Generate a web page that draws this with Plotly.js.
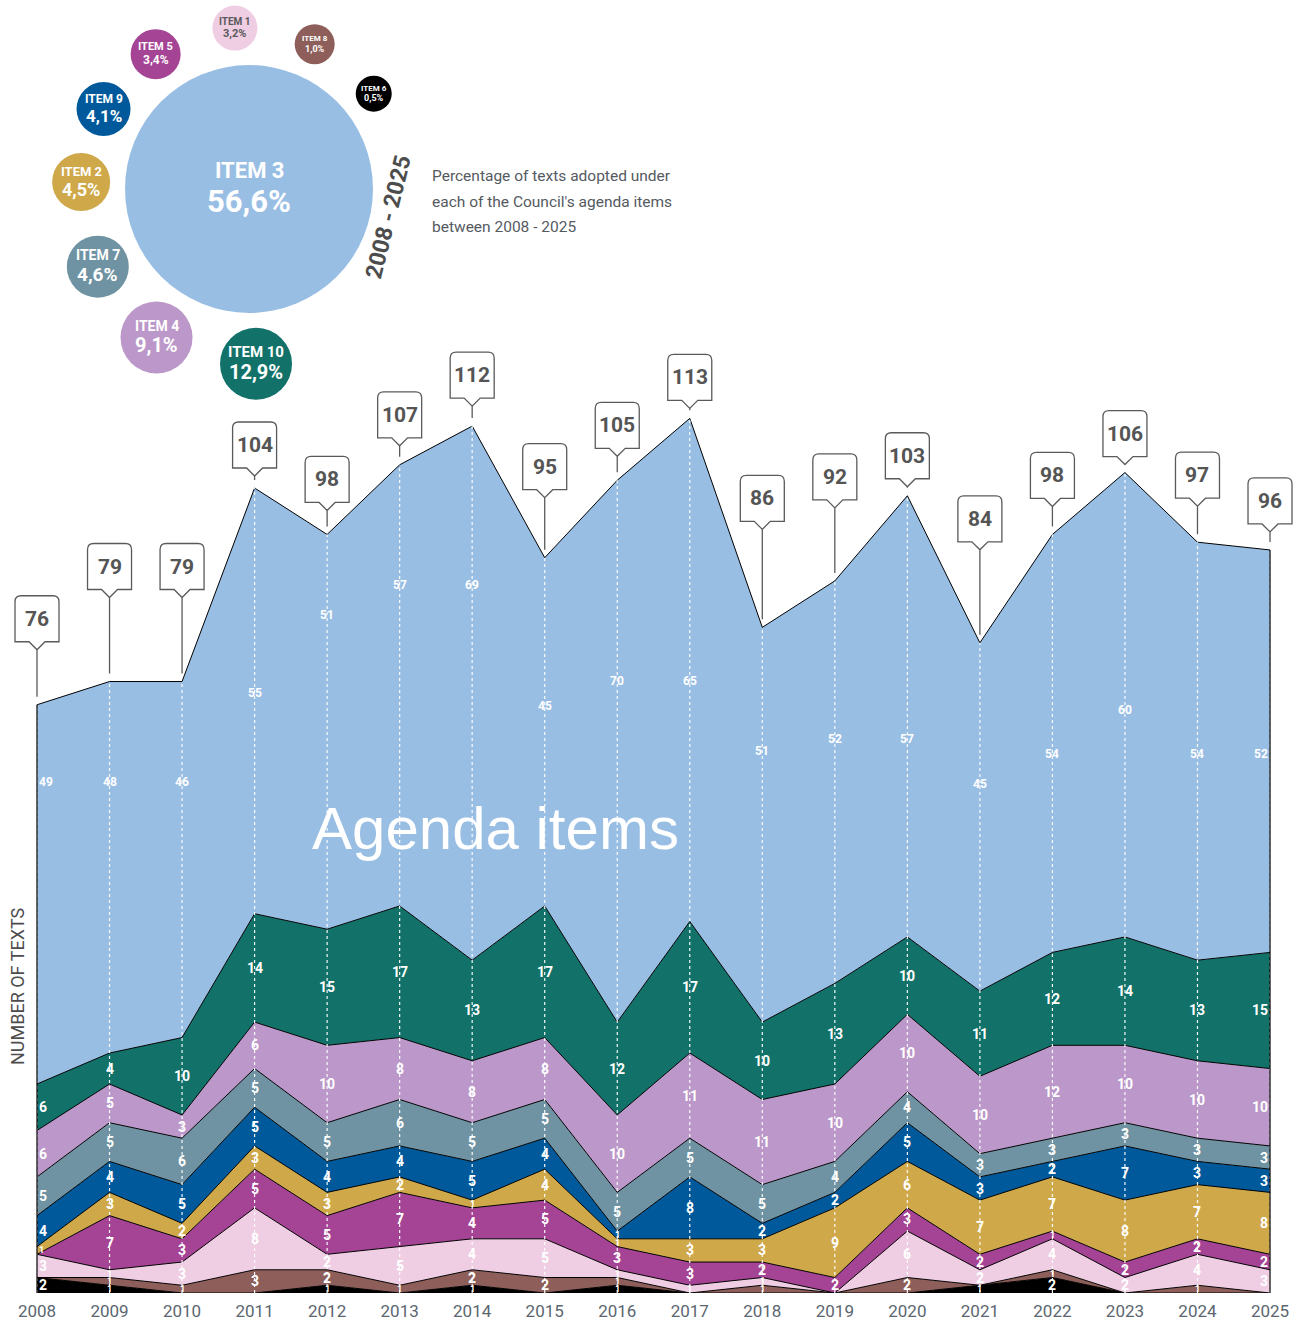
<!DOCTYPE html>
<html><head><meta charset="utf-8">
<script src="https://cdn.plot.ly/plotly-3.0.1.min.js"></script>
<style>html,body{margin:0;padding:0;background:#fff}#chart{width:1300px;height:1321px}</style>
</head><body><div id="chart"></div>
<script>
// ---------------- data ----------------
const years  = [2008,2009,2010,2011,2012,2013,2014,2015,2016,2017,2018,2019,2020,2021,2022,2023,2024,2025];
const totals = [76,79,79,104,98,107,112,95,105,113,86,92,103,84,98,106,97,96];
// stacked from bottom to top
const item6  = [2,1,0,0,1,0,1,0,1,0,0,0,0,1,2,0,0,0];
const item8  = [0,1,1,3,2,1,2,2,1,0,1,0,2,0,1,0,1,0];
const item1  = [3,1,3,8,2,5,4,5,1,1,1,0,6,2,4,2,4,3];
const item5  = [0,7,3,5,5,7,4,5,3,3,2,2,3,2,1,2,2,2];
const item2  = [1,3,2,3,3,2,1,4,1,3,3,9,6,7,7,8,7,8];
const item9  = [4,4,5,5,4,4,5,4,1,8,2,2,5,3,2,7,3,3];
const item7  = [5,5,6,5,5,6,5,5,5,5,5,4,4,3,3,3,3,3];
const item4  = [6,5,3,6,10,8,8,8,10,11,11,10,10,10,12,10,10,10];
const item10 = [6,4,10,14,15,17,13,17,12,17,10,13,10,11,12,14,13,15];
const item3  = [49,48,46,55,51,57,69,45,70,65,51,52,57,45,54,60,54,52];

// share of texts 2008-2025 (bubbles)
const shareItems = ['ITEM 3','ITEM 10','ITEM 4','ITEM 7','ITEM 2','ITEM 9','ITEM 5','ITEM 1','ITEM 8','ITEM 6'];
const sharePct   = ['56,6%','12,9%','9,1%','4,6%','4,5%','4,1%','3,4%','3,2%','1,0%','0,5%'];

// ---------------- styling / layout helpers ----------------
const layerNames  = ['ITEM 6','ITEM 8','ITEM 1','ITEM 5','ITEM 2','ITEM 9','ITEM 7','ITEM 4','ITEM 10','ITEM 3'];
const layerVals   = [item6,item8,item1,item5,item2,item9,item7,item4,item10,item3];
const layerColors = ['#000000','#8e5f5a','#efcde3','#a54494','#cfa84a','#00599b','#6f93a2','#bb98c9','#12726a','#99bee4'];
const colorByItem = {};
layerNames.forEach((n,i)=>colorByItem[n]=layerColors[i]);

// label height inside the top layer (in axis units)
const item3LabelLevel = [66,66,66,77.5,87.6,91.5,91.5,75.8,79.1,79.1,70,71.6,71.6,65.8,69.6,75.3,69.6,69.6];
// distance (px) from the data point to the tip of each total callout
const calloutLift = [55,84,84,12,24,19,20,60,24,10,98,73,9,93,28,8,36,18];

// bubble ring layout (pixels)
const ringCenter = [249,189];
const bubbleDiam = [248,72,72,62,58,54,50,45,40,36];
const bubbleAngle = [null,87.7,121.9,152.8,182.4,208.8,235.3,265,294.4,322.6];
const bubbleGap = 15;
const bubbleFont = [[22,31],[15,20],[14,20],[14,19],[13,18],[12,17],[11,12],[10,11],[8,9],[8,9]];

const NARROW = 'Roboto,"Liberation Sans",sans-serif';

// pixel frame: year 2008 sits at px 37, 72.53 px per year
const PX0 = 37, PXY = 72.53, W = 1300;

// ---------------- traces ----------------
const traces = [];
layerVals.forEach((v,i)=>{
  traces.push({
    type:'scatter', mode:'lines', x:years, y:v, name:layerNames[i],
    stackgroup:'one', fill:'tonexty', fillcolor:layerColors[i],
    line:{color:'#000000', width:1}, hoverinfo:'skip'
  });
});

// bubbles
const bx=[], by=[], bcol=[];
shareItems.forEach((n,i)=>{
  if(i===0){ bx.push(ringCenter[0]); by.push(ringCenter[1]); }
  else{
    const d = bubbleDiam[0]/2 + bubbleGap + bubbleDiam[i]/2;
    const a = bubbleAngle[i]*Math.PI/180;
    bx.push(ringCenter[0] + d*Math.cos(a));
    by.push(ringCenter[1] + d*Math.sin(a));
  }
  bcol.push(colorByItem[n]);
});
traces.push({
  type:'scatter', mode:'markers', x:bx, y:by, xaxis:'x2', yaxis:'y2',
  marker:{size:bubbleDiam, color:bcol, line:{width:0}, opacity:1},
  cliponaxis:false, hoverinfo:'skip', showlegend:false
});

// ---------------- annotations & shapes ----------------
const annotations = [];
const shapes = [];
const lastIdx = years.length-1;

// dotted year lines
years.forEach((yr,j)=>{
  shapes.push({type:'line', xref:'x', yref:'y', x0:yr, x1:yr, y0:0, y1:totals[j],
    line:{color:'rgba(255,255,255,0.95)', width:1.2, dash:'dot'}, layer:'above'});
});
// side edges
shapes.push({type:'line', xref:'x', yref:'y', x0:years[0], x1:years[0], y0:0, y1:totals[0], line:{color:'#000', width:1.2}});
shapes.push({type:'line', xref:'x', yref:'y', x0:years[lastIdx], x1:years[lastIdx], y0:0, y1:totals[lastIdx], line:{color:'#000', width:1.2}});

// value labels inside layers
years.forEach((yr,j)=>{
  let base = 0;
  const xa = j===0 ? 'left' : (j===lastIdx ? 'right' : 'center');
  layerVals.forEach((v,i)=>{
    const val = v[j];
    if(val>0){
      const top = i===layerVals.length-1;
      annotations.push({
        x:yr, y: top ? item3LabelLevel[j] : base + val/2, xref:'x', yref:'y',
        xanchor:xa, xshift: j===0 ? 1 : (j===lastIdx ? -1 : 0),
        text:String(val), showarrow:false, borderpad:0,
        font:{family:NARROW, size: top?12:(val<=1?9:14), color:'#ffffff', weight:'bold'}
      });
    }
    base += val;
  });
});

// total callouts
years.forEach((yr,j)=>{
  const L = calloutLift[j], b = L+8, t = b+46, w = 22, r = 6;
  const path = `M 0,8 L 0,${L} M ${-w},${b} L -8,${b} L 0,${L} L 8,${b} L ${w},${b} L ${w},${t-r} Q ${w},${t} ${w-r},${t} L ${-w+r},${t} Q ${-w},${t} ${-w},${t-r} Z`;
  shapes.push({type:'path', xref:'x', yref:'y', xsizemode:'pixel', ysizemode:'pixel',
    xanchor:yr, yanchor:totals[j], path:path, fillcolor:'#ffffff',
    line:{color:'#5a5a5a', width:1.3}, layer:'above'});
  annotations.push({x:yr, y:totals[j], xref:'x', yref:'y', yshift:b+23, showarrow:false,
    text:String(totals[j]), font:{family:NARROW, size:21, color:'#555555', weight:'bold'}});
});

// bubble texts
shareItems.forEach((n,i)=>{
  const f = bubbleFont[i];
  const tc = n==='ITEM 1' ? '#5a5a5a' : '#ffffff';
  annotations.push({x:bx[i], y:by[i]-0.6*f[1], xref:'x2', yref:'y2', showarrow:false,
    text:n, font:{family:NARROW, size:f[0], color:tc, weight:'bold'}});
  annotations.push({x:bx[i], y:by[i]+0.55*f[0], xref:'x2', yref:'y2', showarrow:false,
    text:sharePct[i], font:{family:NARROW, size:f[1], color:tc, weight:'bold'}});
});

// period label & description
annotations.push({x:388, y:217, xref:'x2', yref:'y2', showarrow:false, textangle:-76,
  text:'2008 - 2025', font:{family:NARROW, size:23, color:'#4d4d4d', weight:'bold'}});
const descLines = ['Percentage of texts adopted under', 'each of the Council\'s agenda items', 'between 2008 - 2025'];
descLines.forEach((s,k)=>{
  annotations.push({x:430, y:176 + k*25.5, xref:'x2', yref:'y2', xanchor:'left', yanchor:'middle', align:'left', showarrow:false,
    text:s, font:{family:NARROW, size:15.5, color:'#555a5f'}});
});
// big overlay title
annotations.push({x:495, y:828, xref:'x2', yref:'y2', showarrow:false,
  text:'Agenda items', font:{family:'"Liberation Sans",Arial,sans-serif', size:60, color:'#ffffff'}});
// y axis title
annotations.push({x:17, y:986, xref:'x2', yref:'y2', showarrow:false, textangle:-90,
  text:'NUMBER OF TEXTS', font:{family:NARROW, size:18, color:'#4d4d4d'}});

// ---------------- layout ----------------
const xr = [2008 - PX0/PXY, 2008 + (W - PX0)/PXY];
const layout = {
  width:1300, height:1321,
  margin:{l:0, r:0, t:0, b:28, pad:0},
  paper_bgcolor:'#ffffff', plot_bgcolor:'rgba(0,0,0,0)',
  showlegend:false,
  xaxis:{range:xr, tickvals:years, ticktext:years.map(String), showgrid:false, zeroline:false,
    showline:false, ticks:'', ticklabelstandoff:6,
    tickfont:{family:NARROW, size:17, color:'#5b6670'}, fixedrange:true},
  yaxis:{range:[0,167.05], visible:false, fixedrange:true},
  xaxis2:{overlaying:'x', range:[0,W], visible:false, fixedrange:true},
  yaxis2:{overlaying:'y', range:[1293,0], visible:false, fixedrange:true},
  annotations:annotations, shapes:shapes
};
Plotly.newPlot('chart', traces, layout, {staticPlot:true, displayModeBar:false});
</script></body></html>
